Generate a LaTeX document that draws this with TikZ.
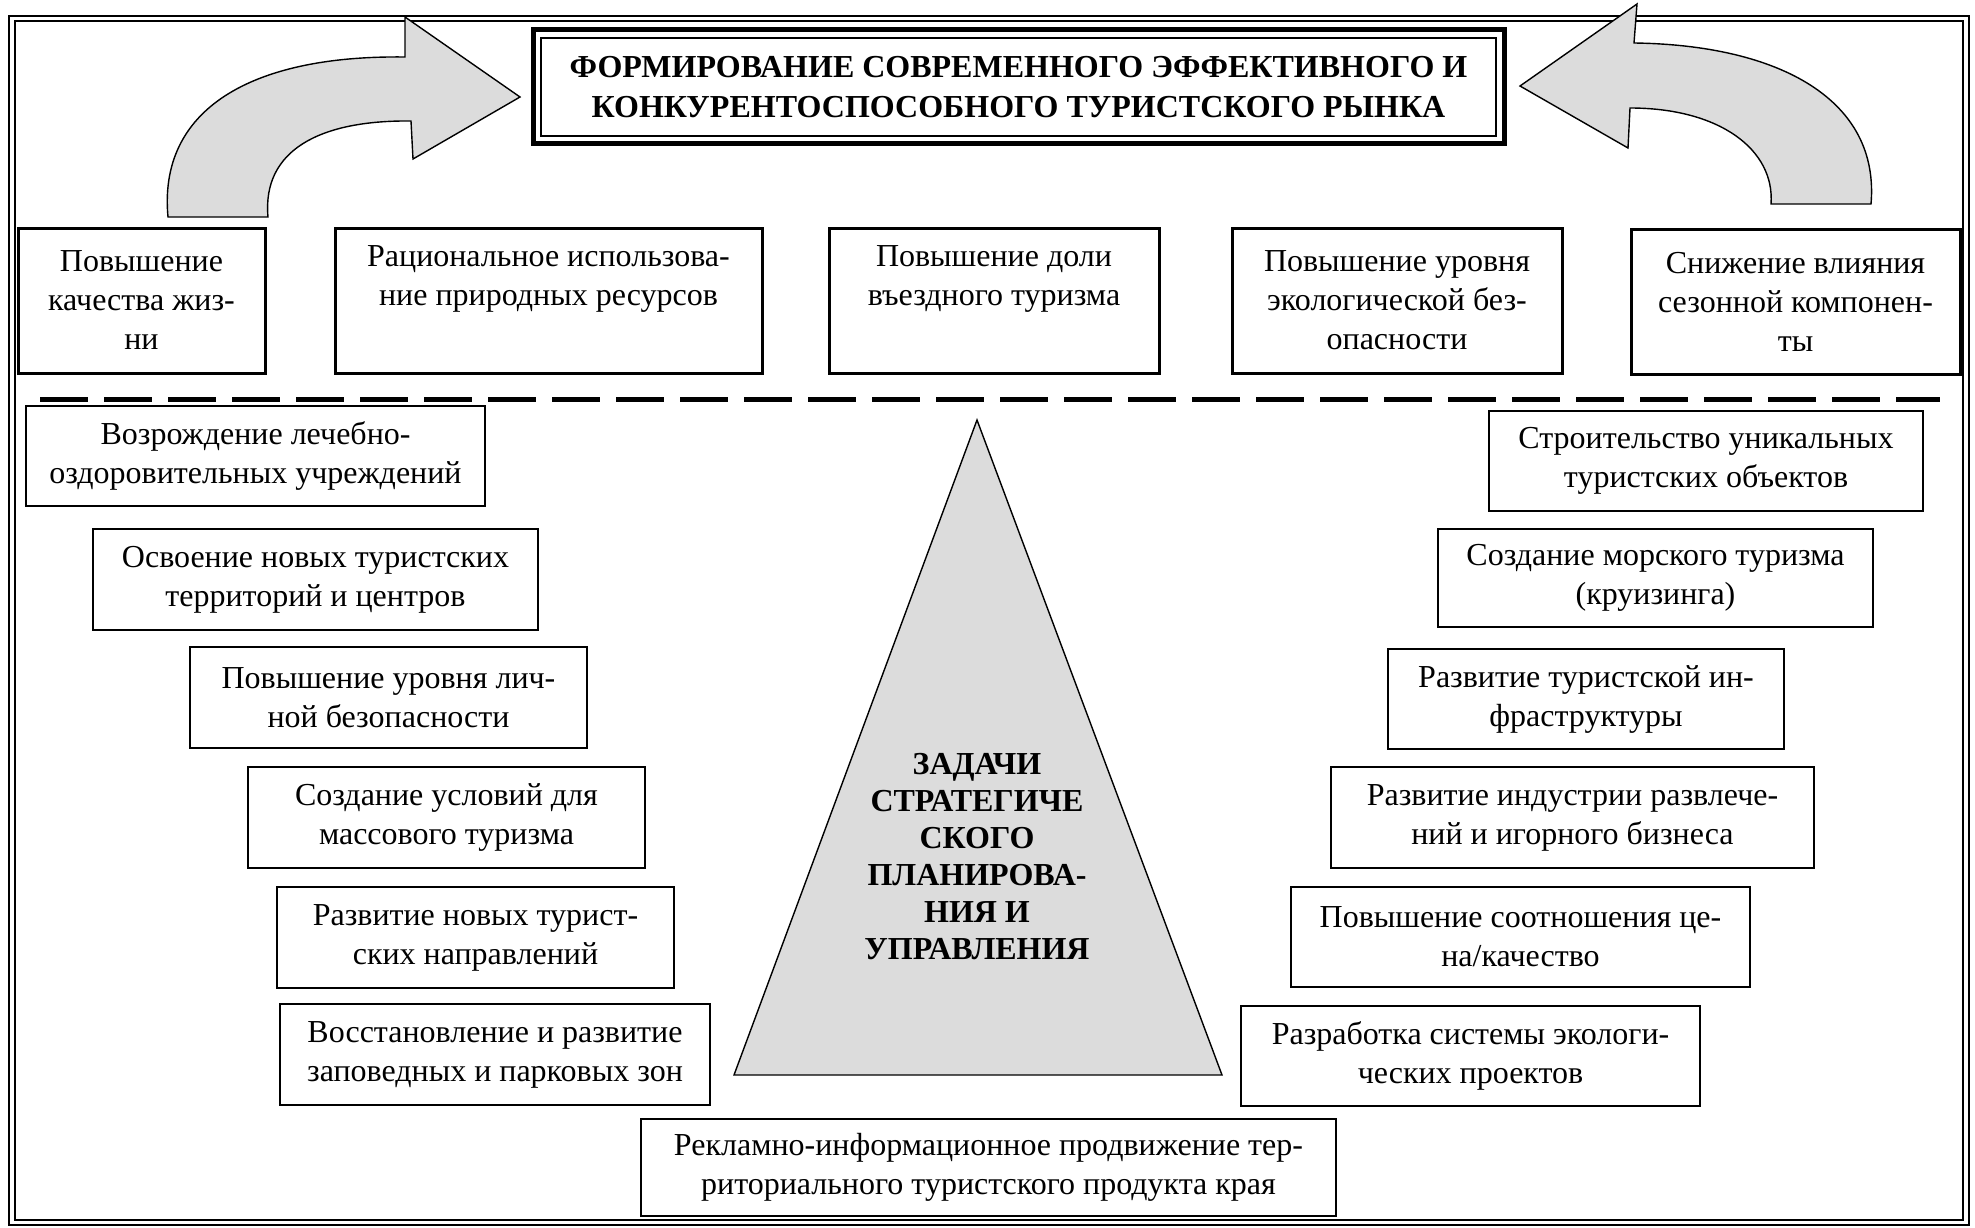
\documentclass[tikz,border=0pt]{standalone}
\usepackage{fontspec}
\setmainfont{Liberation Serif}
\usepackage{tikz}
\definecolor{shadegray}{HTML}{DCDCDC}
\tikzset{
    goalbox/.style={draw, line width=3pt, anchor=north west, align=center, inner sep=0pt, outer sep=0pt},
    taskbox/.style={draw, line width=1.6pt, anchor=north west, align=center, inner sep=0pt, outer sep=0pt},
    bigarrow/.style={draw, line width=1.4pt, fill=shadegray, line join=miter},
}

\begin{document}
\begin{tikzpicture}[x=1pt, y=-1pt, font=\fontsize{32}{39}\selectfont]
    \useasboundingbox (0,0) rectangle (1975,1228);
    % double frame
    \draw [line width=2.6pt] (9,16) rectangle (1969,1225);
    \draw [line width=1.3pt] (15,21) rectangle (1963,1220);

    \node [draw, line width=5pt, anchor=north west, inner sep=0pt, outer sep=0pt,
        minimum width=971, minimum height=114, align=center,
        font=\fontsize{32}{40}\bfseries\selectfont] (title) at (533,30)
        {ФОРМИРОВАНИЕ СОВРЕМЕННОГО ЭФФЕКТИВНОГО И\\КОНКУРЕНТОСПОСОБНОГО ТУРИСТСКОГО РЫНКА};
    \draw [line width=1.5pt] ([shift={(8,8)}]title.north west) rectangle ([shift={(-8,-8)}]title.south east);

    \draw [bigarrow] (168,217) .. controls (158,110) and (250,55) .. (405,57)
        -- (405,17) -- (520,97) -- (413,159) -- (411,121)
        .. controls (320,120) and (262,150) .. (268,217) -- cycle;
    \draw [bigarrow] (1871,204) .. controls (1880,100) and (1780,45) .. (1634,43)
        -- (1637,4) -- (1520,86) -- (1628,148) -- (1630,108)
        .. controls (1720,108) and (1775,150) .. (1771,204) -- cycle;

    \node [goalbox, minimum width=247, minimum height=145] (goal1) at (18,228) {Повышение\\качества жиз-\\ни};
    \node [goalbox, minimum width=427, minimum height=145] (goal2) at (335,228) {Рациональное использова-\\ние природных ресурсов\\\strut};
    \node [goalbox, minimum width=330, minimum height=145] (goal3) at (829,228) {Повышение доли\\въездного туризма\\\strut};
    \node [goalbox, minimum width=330, minimum height=145] (goal4) at (1232,228) {Повышение уровня\\экологической без-\\опасности};
    \node [goalbox, minimum width=329, minimum height=145] (goal5) at (1631,229) {Снижение влияния\\сезонной компонен-\\ты};

    \draw [line width=5pt, dash pattern=on 48pt off 16pt] (40,399) -- (1940,399);

    \draw [line width=1.4pt, fill=shadegray] (977,420) -- (1222,1075) -- (734,1075) -- cycle;
    \node [align=center, font=\fontsize{32}{37}\bfseries\selectfont] (tasks) at (977,857)
        {ЗАДАЧИ\\СТРАТЕГИЧЕ\\СКОГО\\ПЛАНИРОВА-\\НИЯ И\\УПРАВЛЕНИЯ};

    \node [taskbox, minimum width=459, minimum height=100] (left1) at (26,406) {Возрождение лечебно-\\оздоровительных учреждений};
    \node [taskbox, minimum width=445, minimum height=101] (left2) at (93,529) {Освоение новых туристских\\территорий и центров};
    \node [taskbox, minimum width=397, minimum height=101] (left3) at (190,647) {Повышение уровня лич-\\ной безопасности};
    \node [taskbox, minimum width=397, minimum height=101] (left4) at (248,767) {Создание условий для\\массового туризма};
    \node [taskbox, minimum width=397, minimum height=101] (left5) at (277,887) {Развитие новых турист-\\ских направлений};
    \node [taskbox, minimum width=430, minimum height=101] (left6) at (280,1004) {Восстановление и развитие\\заповедных и парковых зон};

    \node [taskbox, minimum width=434, minimum height=100] (right1) at (1489,411) {Строительство уникальных\\туристских объектов};
    \node [taskbox, minimum width=435, minimum height=98] (right2) at (1438,529) {Создание морского туризма\\(круизинга)};
    \node [taskbox, minimum width=396, minimum height=100] (right3) at (1388,649) {Развитие туристской ин-\\фраструктуры};
    \node [taskbox, minimum width=483, minimum height=101] (right4) at (1331,767) {Развитие индустрии развлече-\\ний и игорного бизнеса};
    \node [taskbox, minimum width=459, minimum height=100] (right5) at (1291,887) {Повышение соотношения це-\\на/качество};
    \node [taskbox, minimum width=459, minimum height=100] (right6) at (1241,1006) {Разработка системы экологи-\\ческих проектов};

    \node [taskbox, minimum width=695, minimum height=97] (promo) at (641,1119) {Рекламно-информационное продвижение тер-\\риториального туристского продукта края};
\end{tikzpicture}
\end{document}
